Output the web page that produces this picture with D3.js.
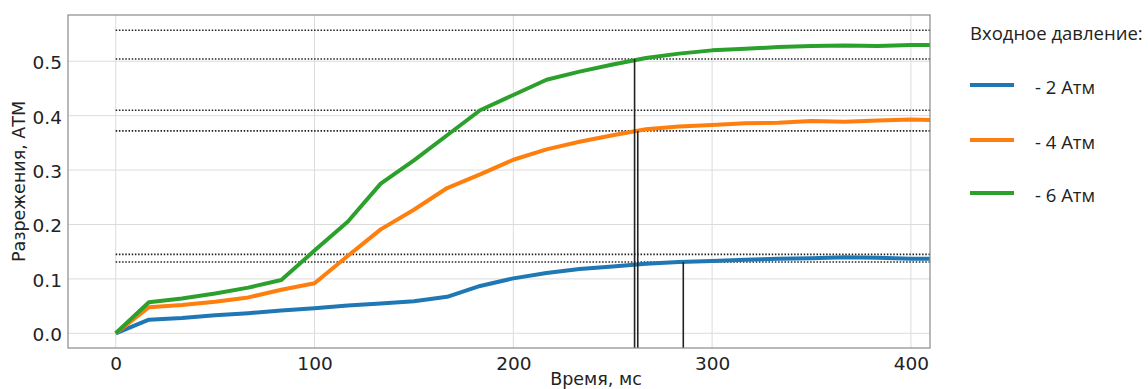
<!DOCTYPE html>
<meta charset="utf-8">
<style>
    body { margin: 0; background: #fff; }
    .tick text { font: 18.5px "DejaVu Sans", sans-serif; fill: #222; }
    .label { font: 17.5px "DejaVu Sans", sans-serif; fill: #222; }
    .legend text { font: 18.5px "Open Sans", sans-serif; fill: #222; }
</style>
<svg width="1148" height="389"></svg>
<script src="https://d3js.org/d3.v7.min.js"></script>
<script>

    // time, ms
    var times = [0, 16.7, 33.3, 50, 66.7, 83.3, 100, 116.7, 133.3, 150, 166.7, 183.3, 200,
        216.7, 233.3, 250, 266.7, 283.3, 300, 316.7, 333.3, 350, 366.7, 383.3, 400, 416.7];

    var p2 = [0, 0.025, 0.028, 0.033, 0.037, 0.042, 0.046, 0.051, 0.055, 0.059, 0.067, 0.087, 0.101,
        0.111, 0.118, 0.123, 0.128, 0.131, 0.133, 0.135, 0.137, 0.138, 0.140, 0.139, 0.137, 0.137];
    var p4 = [0, 0.048, 0.052, 0.058, 0.066, 0.08, 0.092, 0.142, 0.191, 0.227, 0.267, 0.292, 0.319,
        0.338, 0.352, 0.364, 0.375, 0.380, 0.383, 0.386, 0.387, 0.390, 0.389, 0.391, 0.393, 0.391];
    var p6 = [0, 0.057, 0.064, 0.073, 0.084, 0.098, 0.152, 0.205, 0.275, 0.318, 0.364, 0.41, 0.438,
        0.466, 0.481, 0.494, 0.506, 0.514, 0.520, 0.523, 0.526, 0.528, 0.529, 0.528, 0.530, 0.530];

    var seriesNames = ["- 2 Атм", "- 4 Атм", "- 6 Атм"];
    var colors = ["#1f77b4", "#ff7f0e", "#2ca02c"];

    // +-5% bands around steady state
    var bandLevels = [0.557, 0.504, 0.410, 0.372, 0.145, 0.131];
    // settling time markers
    var settleT = [261, 262.6, 285.5];
    var settleV = [0.504, 0.372, 0.131];

    var xTicks = [0, 100, 200, 300, 400];
    var yTicks = [0, 0.1, 0.2, 0.3, 0.4, 0.5];

    var svg = d3.select("svg"),
        pLeft = 68, pRight = 930, pTop = 15, pBottom = 348;

    var x = d3.scaleLinear().domain([-24, 409.6]).range([pLeft, pRight]);
    var y = d3.scaleLinear().domain([-0.027, 0.585]).range([pBottom, pTop]);

    svg.append("clipPath").attr("id", "clip")
        .append("rect")
        .attr("x", pLeft).attr("y", pTop)
        .attr("width", pRight - pLeft).attr("height", pBottom - pTop);

    // grid
    var grid = svg.append("g");
    grid.selectAll(".gx").data(xTicks).enter().append("line")
        .attr("x1", function (d) { return x(d); }).attr("x2", function (d) { return x(d); })
        .attr("y1", pTop).attr("y2", pBottom)
        .attr("stroke", "#dcdcdc").attr("stroke-width", 1);
    grid.selectAll(".gy").data(yTicks).enter().append("line")
        .attr("x1", pLeft).attr("x2", pRight)
        .attr("y1", function (d) { return y(d); }).attr("y2", function (d) { return y(d); })
        .attr("stroke", "#dcdcdc").attr("stroke-width", 1);

    // axes
    var xAxis = svg.append("g")
        .attr("transform", "translate(0," + pBottom + ")")
        .call(d3.axisBottom(x).tickValues(xTicks).tickSize(0).tickPadding(9).tickFormat(d3.format("d")));
    var yAxis = svg.append("g")
        .attr("transform", "translate(" + pLeft + ",0)")
        .call(d3.axisLeft(y).tickValues(yTicks).tickSize(0).tickPadding(6).tickFormat(d3.format(".1f")));
    xAxis.select(".domain").remove();
    yAxis.select(".domain").remove();
    yAxis.selectAll(".tick text").attr("dy", "0.4em");

    var plot = svg.append("g").attr("clip-path", "url(#clip)");

    // dotted band lines
    plot.selectAll(".band").data(bandLevels).enter().append("line")
        .attr("x1", x(0)).attr("x2", pRight)
        .attr("y1", function (d) { return y(d); }).attr("y2", function (d) { return y(d); })
        .attr("stroke", "#222").attr("stroke-width", 1.6)
        .attr("stroke-dasharray", "1.5,1.7");

    // series
    var line = d3.line()
        .x(function (d) { return x(d[0]); })
        .y(function (d) { return y(d[1]); });

    [p2, p4, p6].forEach(function (vals, i) {
        plot.append("path")
            .datum(times.map(function (t, k) { return [t, vals[k]]; }))
            .attr("d", line)
            .attr("fill", "none")
            .attr("stroke", colors[i])
            .attr("stroke-width", 4)
            .attr("stroke-linejoin", "round");
    });

    // settling verticals
    plot.selectAll(".vl").data(settleT).enter().append("line")
        .attr("x1", function (d) { return x(d); }).attr("x2", function (d) { return x(d); })
        .attr("y1", pBottom)
        .attr("y2", function (d, i) { return y(settleV[i]); })
        .attr("stroke", "#222").attr("stroke-width", 1.6);

    // frame
    svg.append("rect")
        .attr("x", pLeft).attr("y", pTop)
        .attr("width", pRight - pLeft).attr("height", pBottom - pTop)
        .attr("fill", "none").attr("stroke", "#8a8a8a").attr("stroke-width", 1.2);

    // labels
    svg.append("text").attr("class", "label")
        .attr("x", 596).attr("y", 385)
        .attr("text-anchor", "middle")
        .text("Время, мс");
    svg.append("text").attr("class", "label")
        .attr("transform", "translate(25," + (pTop + pBottom) / 2 + ") rotate(-90)")
        .attr("text-anchor", "middle")
        .text("Разрежения, АТМ");

    // legend
    var legend = svg.append("g").attr("class", "legend");
    legend.append("text").attr("x", 970).attr("y", 40).text("Входное давление:");
    var itemY = [85, 140, 193];
    seriesNames.forEach(function (name, i) {
        legend.append("line")
            .attr("x1", 970).attr("x2", 1014)
            .attr("y1", itemY[i]).attr("y2", itemY[i])
            .attr("stroke", colors[i]).attr("stroke-width", 4);
        legend.append("text")
            .attr("x", 1035).attr("y", itemY[i] + 8.5)
            .text(name);
    });
</script>
